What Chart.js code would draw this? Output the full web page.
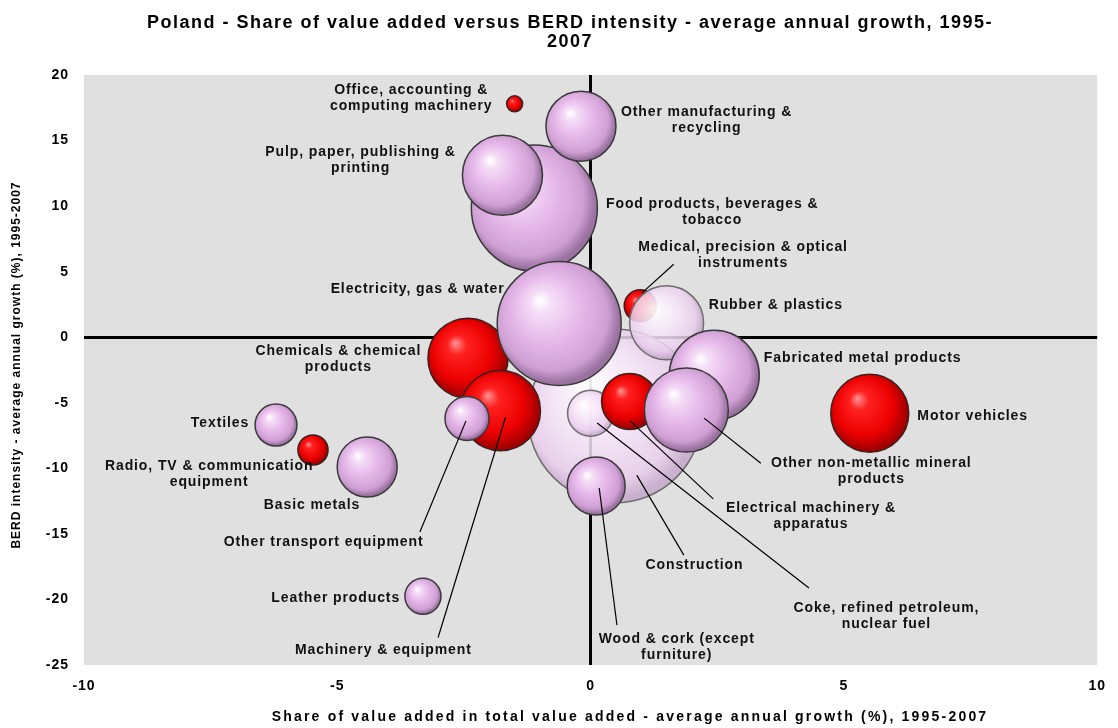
<!DOCTYPE html>
<html>
<head>
<meta charset="utf-8">
<title>Poland - value added vs BERD intensity</title>
<script src="https://cdn.jsdelivr.net/npm/chart.js@4.4.1/dist/chart.umd.min.js"></script>
<style>
    html, body { margin: 0; padding: 0; background: #ffffff; }
    #wrap { width: 1118px; height: 728px; }
</style>
</head>
<body>
<div id="wrap"><canvas id="chart-va-berd"></canvas></div>
<script>
// Sectors in drawing order (later ones sit on top)
const sectors = [
    'Construction',
    'Coke, refined petroleum,\nnuclear fuel',
    'Chemicals & chemical\nproducts',
    'Machinery & equipment',
    'Office, accounting &\ncomputing machinery',
    'Medical, precision & optical\ninstruments',
    'Radio, TV & communication\nequipment',
    'Electrical machinery &\napparatus',
    'Motor vehicles',
    'Food products, beverages &\ntobacco',
    'Pulp, paper, publishing &\nprinting',
    'Other manufacturing &\nrecycling',
    'Electricity, gas & water',
    'Rubber & plastics',
    'Fabricated metal products',
    'Other non-metallic mineral\nproducts',
    'Other transport equipment',
    'Textiles',
    'Basic metals',
    'Wood & cork (except\nfurniture)',
    'Leather products'
];

// Share of value added - average annual growth (%), 1995-2007
const vaGrowth = [0.48, 0.0, -2.42, -1.78, -1.5, 0.98, -5.48, 0.77, 5.51, -1.11, -1.74, -0.19, -0.62, 1.5, 2.44, 1.89, -2.44, -6.21, -4.41, 0.11, -3.31];

// BERD intensity - average annual growth (%), 1995-2007
const berdGrowth = [-6.0, -5.8, -1.6, -5.6, 17.8, 2.4, -8.6, -4.9, -5.8, 9.85, 12.35, 16.1, 1.05, 1.1, -2.9, -5.55, -6.2, -6.7, -9.9, -11.35, -19.75];

// bubble size (relative weight of the sector)
const bubbleSize = [10.0, 0.70, 2.12, 2.12, 0.085, 0.34, 0.30, 1.04, 2.01, 5.25, 2.12, 1.62, 5.08, 1.81, 2.68, 2.33, 0.64, 0.58, 1.19, 1.11, 0.43];

// colour group of each sector
const sectorGroup = ['pale', 'pale', 'red', 'red', 'red', 'red', 'red', 'red', 'red',
    'pink', 'pink', 'pink', 'pink', 'pale', 'pink', 'pink', 'pink', 'pink', 'pink', 'pink', 'pink'];

const xTicks = { min: -10, max: 10, step: 5 };
const yTicks = { min: -25, max: 20, step: 5 };

const chartTitle = ['Poland - Share of value added versus BERD intensity - average annual growth, 1995-', '2007'];
const xTitle = 'Share of value added in total value added - average annual growth (%), 1995-2007';
const yTitle = 'BERD intensity - average annual growth (%), 1995-2007';

// where each sector name is written (axis units), and optional leader line
const labelSpots = [
    { x: 2.05, y: -17.4, align: 'center', lead: [0.91, -10.52, 1.84, -16.62] },
    { x: 5.84, y: -20.7, align: 'center', lead: [0.13, -6.54, 4.31, -19.12] },
    { x: -4.98, y: -1.05, align: 'center' },
    { x: -4.09, y: -23.86, align: 'center', lead: [-1.68, -6.1, -3.01, -22.9] },
    { x: -3.54, y: 18.85, align: 'center' },
    { x: 3.01, y: 6.88, align: 'center', lead: [1.01, 3.36, 1.64, 5.57] },
    { x: -7.53, y: -9.82, align: 'center' },
    { x: 4.35, y: -13.0, align: 'center', lead: [0.78, -6.38, 2.42, -12.33] },
    { x: 6.45, y: -6.01, align: 'left' },
    { x: 2.40, y: 10.16, align: 'center' },
    { x: -4.54, y: 14.13, align: 'center' },
    { x: 2.29, y: 17.18, align: 'center' },
    { x: -1.70, y: 3.67, align: 'right' },
    { x: 2.33, y: 2.46, align: 'left' },
    { x: 3.42, y: -1.59, align: 'left' },
    { x: 5.54, y: -9.6, align: 'center', lead: [2.24, -6.17, 3.36, -9.61] },
    { x: -5.27, y: -15.64, align: 'center', lead: [-2.46, -6.38, -3.37, -14.86] },
    { x: -6.74, y: -6.54, align: 'right' },
    { x: -5.5, y: -12.8, align: 'center' },
    { x: 1.70, y: -23.0, align: 'center', lead: [0.17, -11.5, 0.52, -21.96] },
    { x: -3.76, y: -19.9, align: 'right' }
];

const FONT = '"Liberation Sans", Arial, Helvetica, sans-serif';
const RADIUS_SCALE = 27.5;

const sphereStops = {
    red: [[0, '#ff8a8a'], [0.22, '#ff2020'], [0.7, '#ec0000'], [1, '#a00000']],
    pink: [[0, '#ffffff'], [0.15, '#f5def7'], [0.5, '#e6b9ea'], [0.85, '#cf9fd4'], [1, '#9a72a0']],
    pale: [[0, 'rgba(255,255,255,0.92)'], [0.5, 'rgba(246,228,248,0.86)'], [0.85, 'rgba(233,205,236,0.84)'], [1, 'rgba(198,168,204,0.86)']]
};

const flatColor = { red: '#ee0000', pink: '#e6b9ea', pale: 'rgba(246,228,248,0.86)' };
const edgeColor = { red: '#3c2020', pink: '#3a3a3a', pale: '#6e6e6e' };

function sphereFill(context) {
    const group = sectorGroup[context.dataIndex] || 'pink';
    if (context.type !== 'data') {
        return flatColor[group];
    }
    const chart = context.chart;
    const raw = context.raw;
    const cx = chart.scales.x.getPixelForValue(raw.x);
    const cy = chart.scales.y.getPixelForValue(raw.y);
    const r = raw.r;
    if (![cx, cy, r].every(Number.isFinite)) {
        return flatColor[group];
    }
    const grad = chart.ctx.createRadialGradient(cx - r * 0.32, cy - r * 0.38, r * 0.02, cx - r * 0.08, cy - r * 0.1, r * 1.05);
    sphereStops[group].forEach(([o, c]) => grad.addColorStop(o, c));
    return grad;
}

const points = sectors.map((name, i) => ({
    x: vaGrowth[i],
    y: berdGrowth[i],
    r: RADIUS_SCALE * Math.sqrt(bubbleSize[i]),
    name: name
}));

// grey plotting area, chart title and axis titles
const frame = {
    id: 'frame',
    beforeDraw(chart) {
        const { ctx, chartArea } = chart;
        ctx.save();
        ctx.fillStyle = '#e0e0e0';
        ctx.fillRect(chartArea.left, chartArea.top, chartArea.right - chartArea.left, chartArea.bottom - chartArea.top);

        ctx.fillStyle = '#000000';
        ctx.textAlign = 'center';
        ctx.textBaseline = 'middle';
        ctx.font = 'bold 18px ' + FONT;
        ctx.letterSpacing = '1.5px';
        chartTitle.forEach((line, k) => ctx.fillText(line, 570, 23 + k * 19));

        ctx.font = 'bold 14px ' + FONT;
        ctx.letterSpacing = '2.2px';
        ctx.fillText(xTitle, 630, 717);

        ctx.font = 'bold 12px ' + FONT;
        ctx.letterSpacing = '1px';
        ctx.translate(17, (chartArea.top + chartArea.bottom) / 2 - 5);
        ctx.rotate(-Math.PI / 2);
        ctx.fillText(yTitle, 0, 0);
        ctx.restore();
        // tick labels are drawn with a little tracking as well
        ctx.letterSpacing = '1px';
    },
    beforeDatasetsDraw(chart) {
        chart.ctx.letterSpacing = '0px';
    }
};

// sector names and leader lines
const sectorLabels = {
    id: 'sectorLabels',
    afterDatasetsDraw(chart) {
        const { ctx } = chart;
        const xs = chart.scales.x;
        const ys = chart.scales.y;
        ctx.save();
        ctx.strokeStyle = '#000000';
        ctx.lineWidth = 1.2;
        labelSpots.forEach(spot => {
            if (!spot.lead) return;
            ctx.beginPath();
            ctx.moveTo(xs.getPixelForValue(spot.lead[0]), ys.getPixelForValue(spot.lead[1]));
            ctx.lineTo(xs.getPixelForValue(spot.lead[2]), ys.getPixelForValue(spot.lead[3]));
            ctx.stroke();
        });
        ctx.font = 'bold 14px ' + FONT;
        ctx.letterSpacing = '0.9px';
        ctx.fillStyle = '#111111';
        ctx.textBaseline = 'middle';
        labelSpots.forEach((spot, i) => {
            const px = xs.getPixelForValue(spot.x);
            const py = ys.getPixelForValue(spot.y);
            ctx.textAlign = spot.align;
            sectors[i].split('\n').forEach((line, k) => {
                ctx.fillText(line, px, py + k * 16);
            });
        });
        ctx.restore();
        ctx.letterSpacing = '0px';
    }
};

const zeroLine = (ctx) => (ctx.tick && ctx.tick.value === 0 ? '#000000' : 'rgba(0,0,0,0)');
const zeroWidth = (ctx) => (ctx.tick && ctx.tick.value === 0 ? 3 : 0);

Chart.defaults.font.family = FONT;
Chart.defaults.color = '#000000';

new Chart(document.getElementById('chart-va-berd'), {
    type: 'bubble',
    data: {
        datasets: [{
            label: 'Sectors',
            data: points,
            backgroundColor: sphereFill,
            borderColor: (c) => edgeColor[sectorGroup[c.dataIndex]] || '#333',
            borderWidth: 1.5,
            clip: false
        }]
    },
    options: {
        responsive: true,
        maintainAspectRatio: false,
        animation: false,
        events: [],
        layout: { autoPadding: false, padding: { left: 0, right: 15, top: 75, bottom: 0 } },
        scales: {
            x: {
                type: 'linear',
                min: xTicks.min,
                max: xTicks.max,
                afterFit: (scale) => { scale.height = 63; },
                border: { display: false },
                grid: { color: zeroLine, lineWidth: zeroWidth, drawTicks: false },
                ticks: { stepSize: xTicks.step, padding: 13, font: { size: 14, weight: 'bold' } }
            },
            y: {
                type: 'linear',
                min: yTicks.min,
                max: yTicks.max,
                afterFit: (scale) => { scale.width = 84; },
                border: { display: false },
                grid: { color: zeroLine, lineWidth: zeroWidth, drawTicks: false },
                ticks: { stepSize: yTicks.step, padding: 15, font: { size: 14, weight: 'bold' } }
            }
        },
        plugins: {
            legend: { display: false },
            tooltip: { enabled: false },
            title: { display: false }
        }
    },
    plugins: [frame, sectorLabels]
});
</script>
</body>
</html>
